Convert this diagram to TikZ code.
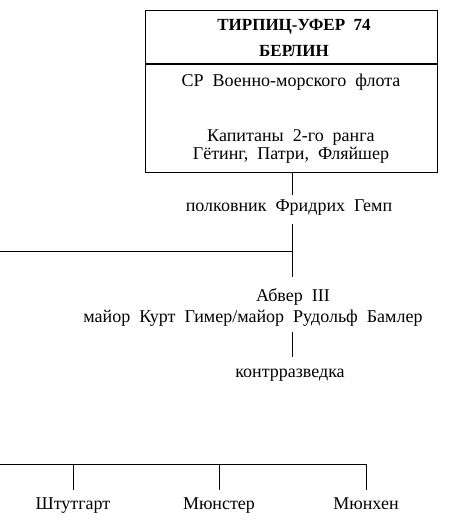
\documentclass[tikz,border=0pt]{standalone}
\usepackage{fontspec}
\setmainfont[WordSpace=2]{Liberation Serif}
\begin{document}
\begin{tikzpicture}[x=1pt, y=-1pt, line width=0.8pt,
  box/.style={draw, minimum width=292pt, inner sep=0pt},
  lbl/.style={inner sep=0pt, text height=12pt, text depth=4pt, align=center},
  head/.style={lbl, font=\bfseries\fontsize{17}{20}\selectfont}]

  \fontsize{18}{18}\selectfont

  \useasboundingbox (0,0) rectangle (452,523);

  % headquarters box
  \node[box, minimum height=53pt] (hq) at (291,37) {};
  \node[box, minimum height=108pt, anchor=north] (navy) at (hq.south) {};
  \node[head] (street) at (294,26) {ТИРПИЦ-УФЕР 74};
  \node[head] (city) at (294,52) {БЕРЛИН};
  \node[lbl] (navyname) at (291,82) {СР Военно-морского флота};
  \node[lbl, text height=30pt] (captains) at (291,146) {Капитаны 2-го ранга\\Гётинг, Патри, Фляйшер};

  % abwehr chain
  \coordinate (trunk) at (292,251);
  \coordinate (west1) at (0,251);
  \node[lbl] (gemp) at (289,207) {полковник Фридрих Гемп};
  \node[lbl] (abwer) at (293,297) {Абвер III};
  \node[lbl] (chiefs) at (253,318) {майор Курт Гимер/майор Рудольф Бамлер};
  \node[lbl] (counter) at (290,373) {контрразведка};

  \draw[shorten >=4pt] (navy.south -| trunk) -- (gemp.north -| trunk);
  \draw[shorten <=9pt, shorten >=12pt] (gemp.south -| trunk) -- (abwer.north -| trunk);
  \draw (west1) -- (trunk);
  \draw[shorten <=6pt, shorten >=8pt] (chiefs.south -| trunk) -- (counter.north -| trunk);

  % field posts
  \coordinate (west2) at (0,464);
  \node[lbl] (stuttgart) at (73,505) {Штутгарт};
  \node[lbl] (munster) at (219,505) {Мюнстер};
  \node[lbl] (munich) at (366,505) {Мюнхен};

  \draw (west2) -- (west2 -| munich);
  \foreach \post in {stuttgart, munster, munich}
    \draw[shorten >=7pt] (west2 -| \post) -- (\post.north);
\end{tikzpicture}
\end{document}
